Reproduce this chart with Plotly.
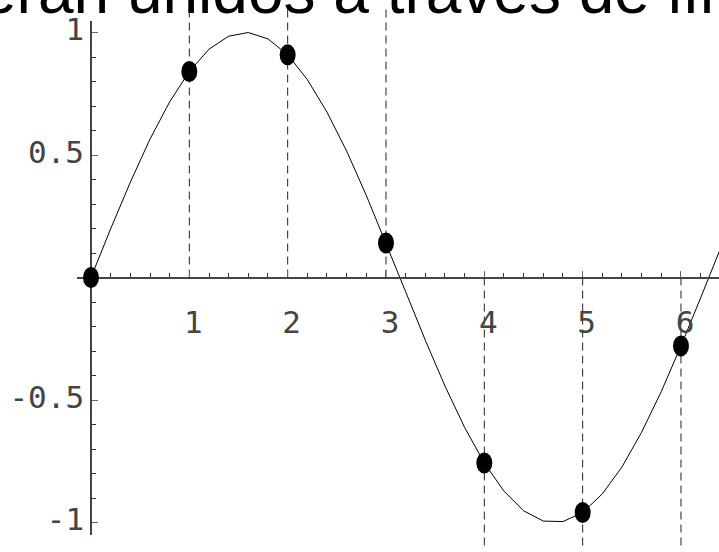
import plotly.graph_objects as go

# ---- data -------------------------------------------------------------
# samples of the continuous curve
CURVE_X = [0.0, 0.2, 0.4, 0.6, 0.8, 1.0, 1.2, 1.4, 1.6, 1.8, 2.0, 2.2, 2.4,
           2.6, 2.8, 3.0, 3.2, 3.4, 3.6, 3.8, 4.0, 4.2, 4.4, 4.6, 4.8, 5.0,
           5.2, 5.4, 5.6, 5.8, 6.0, 6.2, 6.4]
CURVE_Y = [0.0, 0.199, 0.389, 0.565, 0.717, 0.841, 0.932, 0.985, 1.0, 0.974,
           0.909, 0.808, 0.675, 0.516, 0.335, 0.141, -0.058, -0.256, -0.443,
           -0.612, -0.757, -0.872, -0.952, -0.994, -0.996, -0.959, -0.883,
           -0.773, -0.631, -0.465, -0.279, -0.083, 0.117]

# sampled points joined to the horizontal axis
POINT_X = [0, 1, 2, 3, 4, 5, 6]
POINT_Y = [0.0, 0.841, 0.909, 0.141, -0.757, -0.959, -0.279]

X_TICKS = [1, 2, 3, 4, 5, 6]
X_TICK_TEXT = ["1", "2", "3", "4", "5", "6"]
Y_TICKS = [-1, -0.5, 0.5, 1]
Y_TICK_TEXT = ["-1", "-0.5", "0.5", "1"]

HEADING = "eran unidos a través de líneas"

# ---- geometry (pixels) --------------------------------------------------
W, H = 719, 552
ORIGIN_PX = (91, 274)          # where the two axes cross
PX_PER_X = 98.33
PX_PER_Y = 250.0
AXIS_LEFT_PX = 77              # left end of the horizontal axis line
AXIS_TOP_PX, AXIS_BOTTOM_PX = 12, 537   # ends of the vertical axis line

ox, oy = ORIGIN_PX
x_full = [-ox / PX_PER_X, (W - ox) / PX_PER_X]
y_full = [-(H - oy) / PX_PER_Y, oy / PX_PER_Y]
x_axis_rng = [(AXIS_LEFT_PX - ox) / PX_PER_X, x_full[1]]
y_axis_rng = [-(AXIS_BOTTOM_PX - oy) / PX_PER_Y, (oy - AXIS_TOP_PX) / PX_PER_Y]

fig = go.Figure()

# dashed drop lines from the axis towards each point and beyond
dx, dy = [], []
for px, py in zip(POINT_X, POINT_Y):
    if px == 0:
        continue
    end = y_full[1] if py > 0 else y_full[0]
    dx += [px, px, None]
    dy += [0, end, None]
fig.add_trace(go.Scatter(x=dx, y=dy, mode="lines", xaxis="x", yaxis="y",
                         line=dict(color="#222", width=1, dash="8px,5px"),
                         hoverinfo="skip"))

# the curve itself, on the framed axes
fig.add_trace(go.Scatter(x=CURVE_X, y=CURVE_Y, mode="lines", xaxis="x2", yaxis="y2",
                         line=dict(color="black", width=1), hoverinfo="skip"))

# filled oval markers
shapes = []
for px, py in zip(POINT_X, POINT_Y):
    shapes.append(dict(type="circle", xref="x", yref="y",
                       xsizemode="pixel", ysizemode="pixel",
                       xanchor=px, yanchor=py,
                       x0=-8, x1=8, y0=-10.5, y1=10.5,
                       fillcolor="black", line=dict(width=0), layer="above"))

tick_font = dict(family="DejaVu Sans Mono", size=31, color="#444")

fig.update_layout(
    width=W, height=H,
    margin=dict(l=0, r=0, t=0, b=0),
    paper_bgcolor="white", plot_bgcolor="rgba(0,0,0,0)",
    showlegend=False,
    shapes=shapes,
    xaxis=dict(domain=[0, 1], range=x_full, visible=False, fixedrange=True),
    yaxis=dict(domain=[0, 1], range=y_full, visible=False, fixedrange=True),
    xaxis2=dict(
        domain=[AXIS_LEFT_PX / W, 1], range=x_axis_rng,
        anchor="free", position=(H - oy) / H,
        showline=True, linecolor="#444", linewidth=1.5,
        showgrid=False, zeroline=False,
        tickmode="array", tickvals=X_TICKS, ticktext=X_TICK_TEXT,
        ticks="inside", ticklen=6, tickcolor="#666", tickwidth=1,
        minor=dict(tickmode="linear", tick0=0, dtick=0.2, ticks="inside",
                   ticklen=4, tickcolor="#333", tickwidth=1),
        tickfont=tick_font, ticklabelstandoff=18, ticklabelshift=4,
        fixedrange=True,
    ),
    yaxis2=dict(
        domain=[(H - AXIS_BOTTOM_PX) / H, (H - AXIS_TOP_PX) / H], range=y_axis_rng,
        anchor="free", position=ox / W,
        showline=True, linecolor="#444", linewidth=1.5,
        showgrid=False, zeroline=False,
        tickmode="array", tickvals=Y_TICKS, ticktext=Y_TICK_TEXT,
        ticks="inside", ticklen=6, tickcolor="#666", tickwidth=1,
        minor=dict(tickmode="linear", tick0=0, dtick=0.1, ticks="inside",
                   ticklen=4, tickcolor="#333", tickwidth=1),
        tickfont=tick_font, ticklabelstandoff=0, ticklabelshift=-3,
        fixedrange=True,
    ),
    annotations=[dict(
        text=HEADING, xref="paper", yref="paper",
        x=-21 / W, y=(H - 20) / H, xanchor="left", yanchor="bottom",
        showarrow=False, align="left",
        font=dict(family="Liberation Sans", size=64, color="black"),
    )],
)

fig.write_html("out.html")
